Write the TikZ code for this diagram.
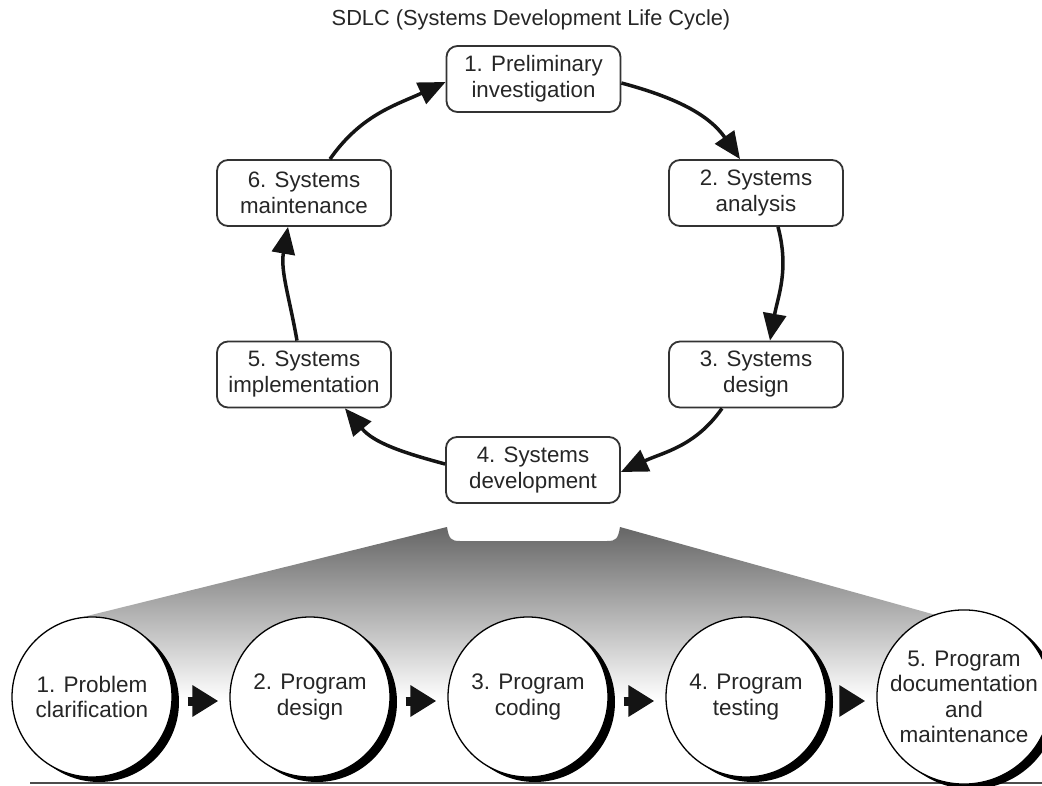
\documentclass[tikz,border=0pt]{standalone}
\usepackage{fontspec}
\setmainfont{Liberation Sans}
\usetikzlibrary{arrows.meta,shadows}

\begin{document}
\begin{tikzpicture}[x=1pt,y=1pt,
  stage/.style={draw=black!80, line width=1.8pt, rounded corners=11pt, fill=white,
    minimum width=174pt, minimum height=66pt, align=center,
    font=\fontsize{22.3}{26}\selectfont, text=black!85},
  cyclearrow/.style={line width=3.5pt, draw=black!92,
    -{Triangle[length=27pt,width=23pt]}},
  phase/.style={circle, draw=black, line width=1.3pt, fill=white,
    minimum size=160pt, inner sep=0pt, align=center,
    font=\fontsize{22.5}{25.5}\selectfont, text=black!85,
    general shadow={fill=black, shadow xshift=7pt, shadow yshift=-5pt}},
  steparrow/.style={line width=9pt, draw=black!92,
    -{Triangle[length=26pt,width=30pt]}},
]
\useasboundingbox (0,0) rectangle (1042,-786);

% title
\node[font=\fontsize{21.8}{25}\selectfont, text=black!85] (title) at (531,-20)
  {SDLC (Systems Development Life Cycle)};

% the six SDLC stages
\node[stage] (s1) at (533.5,-79)  {1. Preliminary\\investigation};
\node[stage] (s2) at (756,-193)   {2. Systems\\analysis};
\node[stage] (s3) at (756,-374.5) {3. Systems\\design};
\node[stage] (s4) at (533,-470)   {4. Systems\\development};
\node[stage] (s5) at (304,-374.5) {5. Systems\\implementation};
\node[stage] (s6) at (304,-193)   {6. Systems\\maintenance};

% the cycle
\draw[cyclearrow] ([yshift=-4pt]s1.east) to[out=-15,in=125] ([xshift=-16pt]s2.north);
\draw[cyclearrow] ([xshift=22pt]s2.south) to[out=-75,in=80] ([xshift=14pt]s3.north);
\draw[cyclearrow] ([xshift=-34pt]s3.south) to[out=-125,in=25] ([yshift=-2pt]s4.east);
\draw[cyclearrow] ([yshift=6pt]s4.west) to[out=165,in=-50] ([xshift=41pt]s5.south);
\draw[cyclearrow] ([xshift=-7pt]s5.north) to[out=100,in=-100] ([xshift=-16pt]s6.south);
\draw[cyclearrow] ([xshift=26pt]s6.north) to[out=55,in=205] ([yshift=-3pt]s1.west);

% shaded funnel opening from stage 4 down to the programming steps
\shade[top color=black!60, bottom color=white]
  (83,-617) -- (447,-527)
  .. controls (449,-539) and (451,-541) .. (460,-541) -- (607,-541)
  .. controls (616,-541) and (618,-539) .. (620,-527)
  -- (943,-617) -- (943,-700) -- (83,-700) -- cycle;

% baseline under the programming steps
\draw[line width=2.5pt, black!70] (30,-783) -- (1042,-783);

% programming steps
\node[phase] (c1) at (92,-697)  {1. Problem\\clarification};
\node[phase] (c2) at (310,-697) {2. Program\\design};
\node[phase] (c3) at (528,-697) {3. Program\\coding};
\node[phase] (c4) at (746,-697) {4. Program\\testing};
\node[phase] (c5) at (964,-697) {5. Program\\documentation\\and\\maintenance};

\draw[steparrow] ([xshift=15pt,yshift=-4pt]c1.east) -- ([xshift=-11pt,yshift=-4pt]c2.west);
\draw[steparrow] ([xshift=15pt,yshift=-4pt]c2.east) -- ([xshift=-11pt,yshift=-4pt]c3.west);
\draw[steparrow] ([xshift=15pt,yshift=-4pt]c3.east) -- ([xshift=-11pt,yshift=-4pt]c4.west);
\draw[steparrow] ([xshift=15pt,yshift=-4pt]c4.east) -- ([xshift=-11pt,yshift=-4pt]c5.west);
\end{tikzpicture}
\end{document}
